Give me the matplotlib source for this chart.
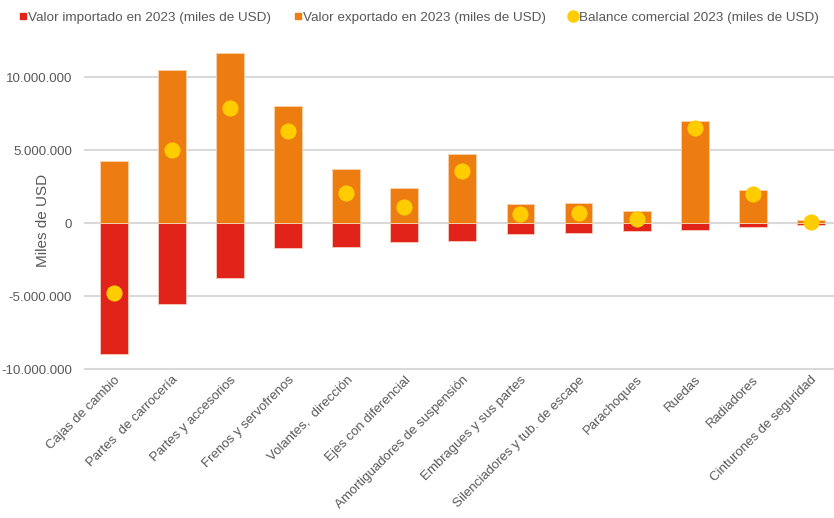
"""Comercio de autopartes 2023: importado vs exportado y balance (miles de USD)."""
import matplotlib
matplotlib.use("Agg")
import matplotlib.pyplot as plt
from matplotlib.lines import Line2D
from matplotlib.ticker import FuncFormatter

plt.rcParams["font.family"] = ["Liberation Sans", "DejaVu Sans"]

categorias = [
    "Cajas de cambio", "Partes  de carrocería", "Partes y accesorios",
    "Frenos y servofrenos", "Volantes,  dirección", "Ejes con diferencial",
    "Amortiguadores de suspensión", "Embragues y sus partes",
    "Silenciadores y tub. de escape", "Parachoques", "Ruedas", "Radiadores",
    "Cinturones de seguridad",
]
# miles de USD (importado en negativo, como en el gráfico)
importado = [-9_000_000, -5_560_000, -3_780_000, -1_690_000, -1_660_000,
             -1_320_000, -1_210_000, -750_000, -660_000, -570_000,
             -500_000, -270_000, -160_000]
exportado = [4_240_000, 10_520_000, 11_660_000, 8_000_000, 3_710_000,
             2_410_000, 4_760_000, 1_320_000, 1_370_000, 840_000,
             6_990_000, 2_260_000, 200_000]
balance = [-4_760_000, 4_990_000, 7_900_000, 6_310_000, 2_070_000,
           1_070_000, 3_580_000, 590_000, 710_000, 270_000,
           6_490_000, 1_980_000, 50_000]

ROJO = "#E2231A"
NARANJA = "#EE7D11"
AMARILLO = "#FFCC00"
GRIS_TXT = "#595959"


def miles(v, _pos):
    return f"{v:,.0f}".replace(",", ".")


fig = plt.figure(figsize=(8.34, 5.18), dpi=100)
ax = fig.add_axes([85 / 834, 1 - 369 / 518, 1 - 85 / 834, (369 - 48) / 518])

x = list(range(len(categorias)))
ax.bar(x, importado, width=0.48, color=ROJO, edgecolor="#F6C4B8",
       linewidth=0.7, zorder=2)
ax.bar(x, exportado, width=0.48, color=NARANJA, edgecolor="#F8CFA8",
       linewidth=0.7, zorder=2)
ax.scatter(x, balance, s=135, color=AMARILLO, zorder=3, linewidths=0)

ax.set_xlim(-0.5, 12.4)
ax.set_ylim(-10_000_000, 12_000_000)
ax.set_yticks([-10_000_000, -5_000_000, 0, 5_000_000, 10_000_000])
ax.yaxis.set_major_formatter(FuncFormatter(miles))
ax.grid(axis="y", color="#D9D9D9", linewidth=1.5, zorder=0)
ax.set_axisbelow(True)
for gl in ax.get_ygridlines():
    gl.set_clip_on(False)
for s in ax.spines.values():
    s.set_visible(False)
ax.tick_params(axis="both", length=0, colors=GRIS_TXT, labelsize=9.5)
ax.tick_params(axis="y", pad=9.3)

ax.set_xticks(x)
ax.set_xticklabels(categorias, rotation=45, ha="right",
                   rotation_mode="anchor", fontsize=9.5, color=GRIS_TXT)
ax.set_ylabel("Miles de USD", fontsize=11, color=GRIS_TXT)
ax.yaxis.set_label_coords(-0.047, 0.464)

handles = [
    Line2D([], [], marker="s", ls="", color=ROJO, markersize=5),
    Line2D([], [], marker="s", ls="", color=NARANJA, markersize=5),
    Line2D([], [], marker="o", ls="", color=AMARILLO, markersize=8),
]
labels = [
    "Valor importado en 2023 (miles de USD)",
    "Valor exportado en 2023 (miles de USD)",
    "Balance comercial 2023 (miles de USD)",
]
leg = fig.legend(handles, labels, loc="center", bbox_to_anchor=(0.502, 0.966),
                 ncol=3, frameon=False, fontsize=9.7, handlelength=0.6,
                 handletextpad=0.1, columnspacing=1.7, labelcolor=GRIS_TXT)

fig.savefig("out.png", dpi=100)
